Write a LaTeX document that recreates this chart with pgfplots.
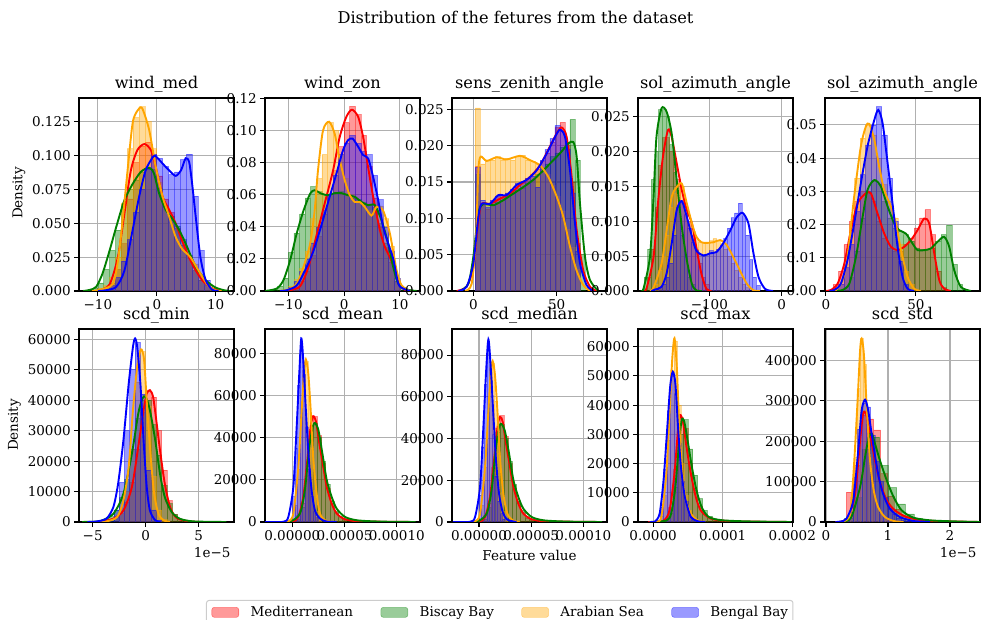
\documentclass[border=0pt]{standalone}
\usepackage{fontspec}
\setmainfont{DejaVu Serif}
\usepackage{pgfplots}
\pgfplotsset{compat=1.18}

\definecolor{cMed}{RGB}{255,0,0}
\definecolor{cBis}{RGB}{0,128,0}
\definecolor{cAra}{RGB}{255,165,0}
\definecolor{cBen}{RGB}{0,0,255}
\definecolor{gridc}{RGB}{176,176,176}
\definecolor{legc}{RGB}{204,204,204}

\newcommand\tickfont{\fontsize{13.5}{16}\selectfont}
\newcommand\titlefont{\fontsize{16.2}{19}\selectfont}

\pgfplotsset{
  every axis title/.style={at={(0.5,1)}, anchor=base, yshift=9.7pt},
  panel/.style={scale only axis, width=155pt, height=193pt, anchor=south west,
    ymin=0, scaled ticks=false,
    grid=major, grid style={gridc, line width=1.05pt},
    axis line style={line width=1.05pt},
    tick align=outside, xtick pos=left, ytick pos=left,
    major tick length=4.7pt, tick style={black, line width=1.05pt},
    tick label style={font=\tickfont},
    title style={font=\titlefont},
    label style={font=\tickfont},
  },
  hist/.style={ybar interval, fill=#1, fill opacity=0.4, draw=#1, draw opacity=0.4,
    line width=0.6pt,
    legend image code/.code={\fill[fill=#1, fill opacity=0.4] (0pt,-5pt) rectangle (27pt,5pt);}},
  kde/.style={draw=#1, line width=1.9pt, smooth, tension=0.45, mark=none, forget plot},
}

\begin{document}
\begin{tikzpicture}
\useasboundingbox (0pt,0pt) rectangle (983pt,620pt);

\node[anchor=base, font=\titlefont] at (515.5pt,596.5pt) {Distribution of the fetures from the dataset};
\node[rotate=90, font=\tickfont] at (19pt,427pt) {Density};
\node[rotate=90, font=\tickfont] at (14.5pt,195pt) {Density};
\node[anchor=base east, font=\tickfont] at (234pt,62pt) {1e−5};
\node[anchor=base east, font=\tickfont] at (980pt,62pt) {1e−5};

% ---------------- wind_med ----------------
\begin{axis}[panel, at={(79pt,329pt)}, xmin=-13.2, xmax=13.1, ymax=0.1425,
  xtick={-10,0,10}, xticklabels={−10,0,10},
  ytick={0,0.025,0.05,0.075,0.1,0.125}, yticklabels={0.000,0.025,0.050,0.075,0.100,0.125},
  title={wind\_med}]
\addplot[hist=cMed] coordinates {(-9,0.002)(-8,0.006)(-7,0.016)(-6,0.035)(-5,0.068)(-4,0.095)(-3,0.107)(-2,0.110)(-1,0.100)(0,0.085)(1,0.068)(2,0.058)(3,0.046)(4,0.034)(5,0.024)(6,0.015)(7,0.008)(8,0.004)(9,0)};
\addplot[hist=cBis] coordinates {(-11,0.002)(-10,0.006)(-9,0.016)(-8,0.030)(-7,0.045)(-6,0.064)(-5,0.075)(-4,0.082)(-3,0.088)(-2,0.091)(-1,0.090)(0,0.076)(1,0.062)(2,0.055)(3,0.048)(4,0.038)(5,0.026)(6,0.015)(7,0.008)(8,0.004)(9,0.002)(10,0)};
\addplot[hist=cAra] coordinates {(-10,0.002)(-9,0.004)(-8,0.010)(-7,0.025)(-6,0.065)(-5,0.105)(-4,0.128)(-3,0.136)(-2,0.125)(-1,0.105)(0,0.080)(1,0.063)(2,0.050)(3,0.038)(4,0.032)(5,0.026)(6,0.020)(7,0.012)(8,0.006)(9,0.002)(10,0)};
\addplot[hist=cBen] coordinates {(-8,0.004)(-7,0.010)(-6,0.022)(-5,0.038)(-4,0.058)(-3,0.075)(-2,0.090)(-1,0.101)(0,0.098)(1,0.092)(2,0.086)(3,0.088)(4,0.097)(5,0.101)(6,0.070)(7,0.030)(8,0.008)(9,0)};
\addplot[kde=cMed] coordinates {(-11,0)(-9.7,0.0005)(-8,0.005)(-6.6,0.025)(-5.5,0.057)(-4.4,0.089)(-3.3,0.104)(-2.1,0.1085)(-1,0.104)(-0.2,0.092)(1,0.0695)(2.1,0.060)(3.2,0.050)(4.3,0.037)(6,0.020)(7.7,0.008)(9.4,0.002)(11,0)};
\addplot[kde=cBis] coordinates {(-12.5,0)(-11.4,0.0008)(-10.3,0.003)(-9.2,0.013)(-8,0.030)(-6.9,0.047)(-5.5,0.067)(-4.1,0.079)(-2.7,0.088)(-1.3,0.091)(-0.5,0.087)(0.4,0.072)(1.5,0.060)(2.6,0.0535)(3.8,0.045)(4.9,0.035)(6.6,0.018)(8.3,0.008)(10,0.0025)(11.7,0.0003)(12.5,0)};
\addplot[kde=cAra] coordinates {(-11,0)(-9.7,0.0008)(-7.5,0.005)(-6.6,0.022)(-5.8,0.052)(-4.96,0.089)(-4.1,0.124)(-3.3,0.133)(-2.5,0.135)(-1.3,0.119)(-0.2,0.092)(1,0.0695)(2.1,0.055)(3.2,0.040)(4.3,0.031)(5.7,0.025)(7.1,0.015)(8.7,0.004)(10,0.0005)(11,0)};
\addplot[kde=cBen] coordinates {(-10,0)(-8.7,0.0005)(-6.9,0.003)(-5.5,0.015)(-4.1,0.045)(-3,0.0695)(-1.9,0.089)(-0.7,0.0986)(-0.2,0.0996)(1,0.094)(2.1,0.089)(3.2,0.085)(4.1,0.089)(4.9,0.098)(5.5,0.095)(6,0.079)(6.6,0.055)(7.4,0.025)(8.3,0.008)(9.4,0.001)(10.5,0)};
\end{axis}

% ---------------- wind_zon ----------------
\begin{axis}[panel, at={(265pt,329pt)}, xmin=-14.2, xmax=13.6, ymax=0.1203,
  xtick={-10,0,10}, xticklabels={−10,0,10},
  ytick={0,0.02,0.04,0.06,0.08,0.1,0.12}, yticklabels={0.00,0.02,0.04,0.06,0.08,0.10,0.12},
  title={wind\_zon}]
\addplot[hist=cMed] coordinates {(-9,0.002)(-8,0.006)(-7,0.012)(-6,0.022)(-5,0.034)(-4,0.048)(-3,0.060)(-2,0.075)(-1,0.090)(0,0.105)(1,0.115)(2,0.110)(3,0.097)(4,0.078)(5,0.058)(6,0.040)(7,0.027)(8,0.018)(9,0.006)(10,0)};
\addplot[hist=cBis] coordinates {(-13,0.001)(-12,0.003)(-11,0.008)(-10,0.024)(-9,0.036)(-8,0.048)(-7,0.058)(-6,0.065)(-5,0.062)(-4,0.060)(-3,0.060)(-2,0.061)(-1,0.062)(0,0.060)(1,0.058)(2,0.057)(3,0.055)(4,0.054)(5,0.052)(6,0.042)(7,0.030)(8,0.022)(9,0.006)(10,0.002)(11,0)};
\addplot[hist=cAra] coordinates {(-10,0.003)(-9,0.007)(-8,0.014)(-7,0.025)(-6,0.045)(-5,0.070)(-4,0.085)(-3,0.105)(-2,0.100)(-1,0.085)(0,0.070)(1,0.060)(2,0.056)(3,0.055)(4,0.050)(5,0.050)(6,0.053)(7,0.045)(8,0.028)(9,0.008)(10,0)};
\addplot[hist=cBen] coordinates {(-10,0.002)(-9,0.006)(-8,0.012)(-7,0.020)(-6,0.030)(-5,0.040)(-4,0.050)(-3,0.060)(-2,0.072)(-1,0.085)(0,0.092)(1,0.097)(2,0.092)(3,0.087)(4,0.085)(5,0.072)(6,0.057)(7,0.040)(8,0.025)(9,0.008)(10,0)};
\addplot[kde=cMed] coordinates {(-11,0)(-9.7,0.0005)(-7.9,0.003)(-6.4,0.015)(-5,0.034)(-3.5,0.0545)(-2,0.075)(-0.8,0.096)(0.4,0.1086)(1.4,0.113)(2.5,0.1086)(3.4,0.096)(4.3,0.077)(5.2,0.0587)(6.4,0.038)(7.3,0.0275)(8.2,0.021)(9.1,0.013)(10,0.0035)(11.2,0)};
\addplot[kde=cBis] coordinates {(-14.2,0)(-12.1,0.0015)(-10.9,0.0067)(-9.7,0.019)(-8.5,0.036)(-7.3,0.050)(-6.1,0.0607)(-5.3,0.0628)(-4.1,0.0607)(-2.9,0.0597)(-1.7,0.061)(-0.5,0.061)(0.7,0.0597)(1.9,0.0587)(3.1,0.0555)(4.3,0.0535)(5.5,0.0535)(6.7,0.044)(7.9,0.0295)(8.8,0.015)(9.7,0.0046)(11.2,0.001)(13,0)};
\addplot[kde=cAra] coordinates {(-11.5,0)(-10,0.001)(-8.5,0.0046)(-7.3,0.015)(-6.1,0.0295)(-5.3,0.050)(-4.7,0.075)(-3.8,0.100)(-2.7,0.1055)(-1.7,0.098)(-0.9,0.0836)(0.1,0.069)(1,0.0597)(1.9,0.0555)(2.8,0.0555)(3.7,0.0524)(4.9,0.047)(5.8,0.0524)(7,0.050)(8.2,0.0358)(9.4,0.013)(10.3,0.0035)(11.8,0)};
\addplot[kde=cBen] coordinates {(-11.5,0)(-10.3,0.0005)(-8.5,0.0035)(-7,0.013)(-5.5,0.025)(-4,0.042)(-2.6,0.0587)(-1.4,0.073)(-0.2,0.0878)(0.7,0.094)(1.5,0.095)(2.5,0.090)(3.4,0.0847)(4.3,0.0826)(5.2,0.071)(6.1,0.0566)(7,0.040)(7.9,0.0295)(8.8,0.020)(9.7,0.0046)(10.6,0.0015)(11.8,0)};
\end{axis}

% ---------------- sens_zenith_angle ----------------
\begin{axis}[panel, at={(452pt,329pt)}, xmin=-12.8, xmax=80.2, ymax=0.02656,
  xtick={0,50}, xticklabels={0,50},
  ytick={0,0.005,0.01,0.015,0.02,0.025}, yticklabels={0.000,0.005,0.010,0.015,0.020,0.025},
  title={sens\_zenith\_angle}]
\addplot[hist=cMed] coordinates {(1,0.0172)(4,0.0118)(7,0.0113)(10,0.0122)(13,0.013)(16,0.0128)(19,0.0135)(22,0.0138)(25,0.0142)(28,0.0148)(31,0.0155)(34,0.016)(37,0.0168)(40,0.0178)(43,0.019)(46,0.0205)(49,0.0225)(52,0.0232)(55,0.020)(58,0.015)(61,0.0065)(64,0)};
\addplot[hist=cBis] coordinates {(1,0.016)(4,0.012)(7,0.0118)(10,0.0118)(13,0.0122)(16,0.0125)(19,0.013)(22,0.0133)(25,0.0138)(28,0.0142)(31,0.0148)(34,0.0152)(37,0.016)(40,0.0168)(43,0.0175)(46,0.0185)(49,0.019)(52,0.0198)(55,0.0205)(58,0.0236)(61,0.018)(64,0.005)(67,0)};
\addplot[hist=cAra] coordinates {(1,0.0252)(4,0.0175)(7,0.018)(10,0.018)(13,0.0185)(16,0.018)(19,0.0182)(22,0.018)(25,0.0185)(28,0.0187)(31,0.018)(34,0.0178)(37,0.0175)(40,0.017)(43,0.016)(46,0.0145)(49,0.013)(52,0.011)(55,0.0085)(58,0.006)(61,0.003)(64,0)};
\addplot[hist=cBen] coordinates {(1,0.017)(4,0.0125)(7,0.0115)(10,0.0125)(13,0.013)(16,0.013)(19,0.0135)(22,0.014)(25,0.0148)(28,0.015)(31,0.0155)(34,0.0158)(37,0.0143)(40,0.018)(43,0.0195)(46,0.021)(49,0.0228)(52,0.022)(55,0.0195)(58,0.0135)(61,0.0055)(64,0)};
\addplot[kde=cMed] coordinates {(-10,0)(-4,0.0006)(0,0.0033)(3,0.0097)(5,0.012)(10,0.012)(16,0.0127)(22,0.0134)(28,0.0146)(34,0.0157)(40,0.0173)(46,0.0199)(50,0.0217)(53,0.0225)(56,0.0212)(59,0.0157)(62,0.0084)(66,0.0028)(70,0.0006)(74,0)};
\addplot[kde=cBis] coordinates {(-8,0)(-3,0.001)(0,0.0047)(3,0.0107)(6,0.012)(12,0.0118)(18,0.0125)(24,0.0134)(30,0.0143)(36,0.0153)(42,0.0166)(48,0.018)(53,0.0192)(57,0.0203)(60,0.0205)(62,0.0185)(64,0.012)(67,0.0047)(70,0.0015)(75,0)};
\addplot[kde=cAra] coordinates {(-5,0)(-1,0.001)(1.6,0.0074)(3,0.0166)(4.4,0.0185)(8,0.0179)(14,0.0184)(20,0.0181)(28,0.0186)(34,0.018)(40,0.0173)(45,0.0157)(50,0.013)(54,0.0102)(58,0.0061)(62,0.0028)(66,0.0008)(70,0)};
\addplot[kde=cBen] coordinates {(-9,0)(-4,0.0006)(0,0.0038)(3,0.0102)(5,0.012)(10,0.012)(15,0.0132)(20,0.0132)(26,0.0146)(32,0.0153)(38,0.0166)(44,0.0189)(49,0.0212)(52,0.0222)(55,0.0212)(58,0.0166)(61,0.0093)(64,0.0038)(68,0.0008)(72,0)};
\end{axis}

% ---------------- sol_azimuth_angle (1) ----------------
\begin{axis}[panel, at={(638pt,329pt)}, xmin=-198.5, xmax=15.6, ymax=0.02768,
  xtick={-100,0}, xticklabels={−100,0},
  ytick={0,0.005,0.01,0.015,0.02,0.025}, yticklabels={0.000,0.005,0.010,0.015,0.020,0.025},
  title={sol\_azimuth\_angle}]
\addplot[hist=cMed] coordinates {(-185,0.002)(-180,0.006)(-175,0.012)(-170,0.018)(-165,0.022)(-160,0.022)(-155,0.020)(-150,0.019)(-145,0.016)(-140,0.013)(-135,0.011)(-130,0.010)(-125,0.008)(-120,0.006)(-115,0.004)(-110,0.002)(-105,0.001)(-100,0)};
\addplot[hist=cBis] coordinates {(-190,0.002)(-185,0.006)(-180,0.016)(-175,0.020)(-170,0.026)(-165,0.026)(-160,0.025)(-155,0.021)(-150,0.017)(-145,0.012)(-140,0.008)(-135,0.005)(-130,0.002)(-125,0.001)(-120,0)};
\addplot[hist=cAra] coordinates {(-175,0.001)(-170,0.003)(-165,0.005)(-160,0.008)(-155,0.012)(-150,0.014)(-145,0.0155)(-140,0.015)(-135,0.012)(-130,0.010)(-125,0.0085)(-120,0.0075)(-115,0.007)(-110,0.007)(-105,0.007)(-100,0.0072)(-95,0.0075)(-90,0.0072)(-85,0.0068)(-80,0.006)(-75,0.005)(-70,0.004)(-65,0.003)(-60,0.002)(-55,0.001)(-50,0.0005)(-45,0)};
\addplot[hist=cBen] coordinates {(-170,0.0005)(-165,0.001)(-160,0.002)(-155,0.004)(-150,0.008)(-145,0.012)(-140,0.0128)(-135,0.011)(-130,0.009)(-125,0.007)(-120,0.0058)(-115,0.0052)(-110,0.005)(-105,0.0052)(-100,0.0058)(-95,0.0055)(-90,0.006)(-85,0.0065)(-80,0.0075)(-75,0.009)(-70,0.0105)(-65,0.0112)(-60,0.0126)(-55,0.0108)(-50,0.008)(-45,0.0045)(-40,0.002)(-35,0.0008)(-30,0)};
\addplot[kde=cMed] coordinates {(-192,0)(-187,0.0003)(-177,0.0049)(-171,0.0125)(-164,0.0193)(-157,0.0231)(-152,0.0221)(-145,0.0183)(-138,0.0145)(-131,0.0116)(-124,0.0097)(-118,0.0063)(-111,0.0025)(-104,0.0003)(-97,0)};
\addplot[kde=cBis] coordinates {(-195,0)(-191,0.0003)(-182,0.0049)(-177,0.0135)(-173,0.0221)(-166,0.0262)(-159,0.0257)(-152,0.0226)(-145,0.0159)(-138,0.0092)(-131,0.0044)(-124,0.001)(-118,0.0001)(-110,0)};
\addplot[kde=cAra] coordinates {(-182,0)(-177,0.0005)(-166,0.0039)(-159,0.0087)(-152,0.0135)(-145,0.0149)(-138,0.0154)(-131,0.0125)(-124,0.0097)(-118,0.0078)(-111,0.007)(-104,0.0069)(-94,0.007)(-85,0.0073)(-76,0.0066)(-67,0.0049)(-58,0.003)(-48,0.001)(-39,0.0001)(-30,0)};
\addplot[kde=cBen] coordinates {(-180,0)(-175,0.0002)(-166,0.0006)(-159,0.0025)(-152,0.0068)(-145,0.0116)(-138,0.0129)(-131,0.0106)(-124,0.0078)(-118,0.0058)(-108,0.0051)(-99,0.0054)(-90,0.0056)(-81,0.0068)(-71,0.0087)(-62,0.0106)(-54,0.0112)(-46,0.0097)(-39,0.0054)(-32,0.002)(-23,0.0003)(-12,0)};
\end{axis}

% ---------------- sol_azimuth_angle (2) ----------------
\begin{axis}[panel, at={(825pt,329pt)}, xmin=-0.5, xmax=85.6, ymax=0.0581,
  xtick={0,50}, xticklabels={0,50},
  ytick={0,0.01,0.02,0.03,0.04,0.05}, yticklabels={0.00,0.01,0.02,0.03,0.04,0.05},
  title={sol\_azimuth\_angle}]
\addplot[hist=cMed] coordinates {(4,0.002)(7,0.006)(10,0.014)(13,0.021)(16,0.027)(19,0.030)(22,0.030)(25,0.027)(28,0.021)(31,0.016)(34,0.013)(37,0.012)(40,0.012)(43,0.014)(46,0.016)(49,0.019)(52,0.022)(55,0.0245)(58,0.017)(61,0.006)(64,0.001)(67,0)};
\addplot[hist=cBis] coordinates {(10,0.001)(13,0.004)(16,0.012)(19,0.022)(22,0.030)(25,0.033)(28,0.032)(31,0.027)(34,0.022)(37,0.019)(40,0.018)(43,0.017)(46,0.015)(49,0.013)(52,0.0125)(55,0.0125)(58,0.013)(61,0.015)(64,0.017)(67,0.0198)(70,0.008)(73,0.002)(76,0)};
\addplot[hist=cAra] coordinates {(7,0.002)(10,0.008)(13,0.020)(16,0.034)(19,0.046)(22,0.050)(25,0.047)(28,0.040)(31,0.032)(34,0.027)(37,0.022)(40,0.014)(43,0.006)(46,0.002)(49,0)};
\addplot[hist=cBen] coordinates {(7,0.002)(10,0.007)(13,0.014)(16,0.024)(19,0.035)(22,0.044)(25,0.050)(28,0.0555)(31,0.047)(34,0.034)(37,0.021)(40,0.009)(43,0.002)(46,0)};
\addplot[kde=cMed] coordinates {(0,0)(2.8,0.0003)(6.5,0.0022)(10.2,0.0082)(13.9,0.0183)(17.6,0.0264)(22.2,0.0294)(25,0.0294)(28.7,0.0233)(32.4,0.0173)(36.1,0.0133)(39.8,0.0123)(43.5,0.0133)(47.2,0.0153)(50.9,0.0183)(54.6,0.0218)(57.4,0.0203)(60.2,0.0113)(63,0.0032)(65.7,0.0007)(69.4,0)};
\addplot[kde=cBis] coordinates {(6,0)(9.3,0.0003)(13,0.0022)(16.7,0.0103)(20.4,0.0223)(23.1,0.0304)(26.9,0.0334)(30.6,0.0314)(34.3,0.0254)(38,0.0203)(40.7,0.0183)(44.4,0.0173)(48.1,0.0143)(50.9,0.0123)(54.6,0.0123)(58.3,0.0128)(62,0.0148)(65.7,0.0163)(68.5,0.0133)(71.3,0.0062)(75,0.0012)(80.6,0)};
\addplot[kde=cAra] coordinates {(3,0)(5.6,0.0003)(9.3,0.0032)(12,0.0103)(15.7,0.0284)(19.4,0.0435)(22.2,0.0495)(24.1,0.0503)(26.9,0.0455)(29.6,0.0374)(32.4,0.0304)(36.1,0.0254)(38.9,0.0203)(41.7,0.0123)(45.4,0.0042)(49,0.0007)(52.8,0)};
\addplot[kde=cBen] coordinates {(2,0)(4.6,0.0003)(8.3,0.0022)(12,0.0093)(15.7,0.0203)(19.4,0.0324)(23.1,0.0435)(26.9,0.0515)(29.1,0.0545)(31.5,0.0505)(34.3,0.0384)(37,0.0264)(39.8,0.0133)(42.6,0.0042)(45.4,0.0007)(49,0)};
\end{axis}

% ---------------- scd_min (x in units of 1e-5) ----------------
\begin{axis}[panel, at={(79pt,98pt)}, xmin=-6.29, xmax=8.33, ymax=63400,
  xtick={-5,0,5}, xticklabels={−5,0,5},
  ytick={0,10000,20000,30000,40000,50000,60000}, yticklabels={0,10000,20000,30000,40000,50000,60000},
  title={scd\_min}]
\addplot[hist=cMed] coordinates {(-3,1500)(-2.5,3000)(-2,6500)(-1.5,13000)(-1,24000)(-0.5,36000)(0,43000)(0.5,41000)(1,30000)(1.5,17000)(2,7000)(2.5,2500)(3,800)(3.5,0)};
\addplot[hist=cBis] coordinates {(-4,800)(-3.5,1800)(-3,4000)(-2.5,8000)(-2,14000)(-1.5,24000)(-1,34000)(-0.5,40000)(0,40000)(0.5,32000)(1,22000)(1.5,12000)(2,6000)(2.5,2500)(3,1000)(3.5,400)(4,0)};
\addplot[hist=cAra] coordinates {(-2.5,3000)(-2,10000)(-1.5,24000)(-1,46000)(-0.5,56000)(0,38000)(0.5,15000)(1,4000)(1.5,800)(2,0)};
\addplot[hist=cBen] coordinates {(-3.5,1000)(-3,4000)(-2.5,13000)(-2,30000)(-1.5,50000)(-1,59000)(-0.5,42000)(0,17000)(0.5,4000)(1,600)(1.5,0)};
\addplot[kde=cMed] coordinates {(-5,0)(-4.3,100)(-3.05,1100)(-2.1,3800)(-1.3,11500)(-0.7,24700)(-0.2,36700)(0.1,42200)(0.4,43300)(0.7,41100)(1,33400)(1.35,23600)(1.8,12600)(2.3,4900)(2.9,1400)(3.9,300)(5.1,0)};
\addplot[kde=cBis] coordinates {(-6,0)(-5.6,50)(-4.3,300)(-3.05,2700)(-2.1,9300)(-1.3,22500)(-0.7,35600)(-0.3,40600)(0,41100)(0.4,36700)(0.9,26900)(1.35,15900)(1.8,8200)(2.45,3300)(3.2,1100)(4.5,200)(7.6,0)};
\addplot[kde=cAra] coordinates {(-4.5,0)(-3.7,200)(-2.7,1600)(-2.1,7100)(-1.6,18100)(-1.2,36700)(-0.8,51000)(-0.45,56700)(-0.15,53200)(0.15,36700)(0.5,20300)(0.8,9300)(1.2,2700)(1.7,550)(2.3,0)};
\addplot[kde=cBen] coordinates {(-5.5,0)(-4.6,200)(-3.7,1100)(-3.05,4900)(-2.6,12600)(-2.1,26900)(-1.6,45500)(-1.2,57500)(-1,60300)(-0.8,57500)(-0.5,45500)(-0.2,26900)(0.1,11500)(0.4,3800)(0.9,550)(1.4,0)};
\end{axis}

% ---------------- scd_mean ----------------
\begin{axis}[panel, at={(265pt,98pt)}, xmin=-2.61, xmax=12.22, ymax=91550,
  xtick={0,5,10}, xticklabels={0.00000,0.00005,0.00010},
  ytick={0,20000,40000,60000,80000}, yticklabels={0,20000,40000,60000,80000},
  title={scd\_mean}]
\addplot[hist=cMed] coordinates {(0.4,3000)(0.8,9000)(1.2,25000)(1.6,44000)(2.0,50000)(2.4,41000)(2.8,28000)(3.2,16000)(3.6,9000)(4.0,4500)(4.4,2000)(4.8,1000)(5.2,0)};
\addplot[hist=cBis] coordinates {(0.4,1500)(0.8,7000)(1.2,22000)(1.6,42000)(2.0,47000)(2.4,40000)(2.8,29000)(3.2,18000)(3.6,10000)(4.0,5000)(4.4,2500)(4.8,1500)(5.2,800)(5.6,0)};
\addplot[hist=cAra] coordinates {(0.25,8000)(0.5,25000)(0.75,50000)(1.0,72000)(1.25,76000)(1.5,60000)(1.75,35000)(2.0,15000)(2.25,5000)(2.5,1500)(2.75,0)};
\addplot[hist=cBen] coordinates {(0,12000)(0.25,35000)(0.5,65000)(0.75,84000)(1.0,70000)(1.25,45000)(1.5,25000)(1.75,12000)(2.0,5000)(2.25,2000)(2.5,0)};
\addplot[kde=cMed] coordinates {(-0.5,0)(0.1,200)(0.58,2400)(1.05,11900)(1.44,29300)(1.76,45100)(2.0,50200)(2.27,47500)(2.59,37200)(2.97,26100)(3.3,16600)(3.77,8700)(4.25,4000)(4.9,1600)(5.85,500)(7.4,200)(11.6,0)};
\addplot[kde=cBis] coordinates {(-2.1,0)(-0.2,300)(0.73,4000)(1.2,15000)(1.63,35600)(1.95,45100)(2.17,47000)(2.5,43600)(2.88,32500)(3.3,19800)(3.77,11900)(4.25,6300)(5.05,2400)(6.2,800)(8.4,200)(11.8,0)};
\addplot[kde=cAra] coordinates {(-1,0)(-0.38,300)(0.1,4000)(0.58,26100)(0.9,53100)(1.12,70500)(1.3,77100)(1.53,70500)(1.76,53100)(2.0,30900)(2.33,13500)(2.65,4000)(3.13,800)(3.9,0)};
\addplot[kde=cBen] coordinates {(-2.6,0)(-0.86,100)(-0.38,2400)(0.1,16600)(0.42,45100)(0.67,70500)(0.86,87100)(1.05,76800)(1.3,53100)(1.57,30900)(1.85,15000)(2.17,5500)(2.65,1600)(3.3,200)(4.25,0)};
\end{axis}

% ---------------- scd_median (carries the legend) ----------------
\begin{axis}[panel, at={(452pt,98pt)}, xmin=-2.59, xmax=12.27, ymax=92480,
  xtick={0,5,10}, xticklabels={0.00000,0.00005,0.00010},
  ytick={0,20000,40000,60000,80000}, yticklabels={0,20000,40000,60000,80000},
  title={scd\_median},
  xlabel={Feature value},
  xlabel style={at={(axis description cs:0.5,-0.202)}, anchor=base},
  legend columns=4,
  legend style={at={(0.308,-0.404)}, anchor=north, draw=legc, line width=1pt,
    rounded corners=2.5pt, fill=white, font=\tickfont,
    inner xsep=5pt, inner ysep=6pt, nodes={inner sep=0pt},
    /tikz/every odd column/.append style={column sep=11.5pt},
    /tikz/every even column/.append style={column sep=27.4pt}}]
\addplot[hist=cMed] coordinates {(0.4,3000)(0.8,9000)(1.2,26000)(1.6,45000)(2.0,51000)(2.4,41000)(2.8,28000)(3.2,16000)(3.6,9000)(4.0,4500)(4.4,2000)(4.8,1000)(5.2,0)};
\addlegendentry{Mediterranean}
\addplot[hist=cBis] coordinates {(0.4,1500)(0.8,7000)(1.2,23000)(1.6,43000)(2.0,47000)(2.4,40000)(2.8,29000)(3.2,18000)(3.6,10000)(4.0,5500)(4.4,2500)(4.8,1500)(5.2,800)(5.6,0)};
\addlegendentry{Biscay Bay}
\addplot[hist=cAra] coordinates {(0.25,8000)(0.5,26000)(0.75,52000)(1.0,74000)(1.25,76000)(1.5,58000)(1.75,33000)(2.0,14000)(2.25,5000)(2.5,1500)(2.75,0)};
\addlegendentry{Arabian Sea}
\addplot[hist=cBen] coordinates {(0,13000)(0.25,36000)(0.5,66000)(0.75,86000)(1.0,68000)(1.25,42000)(1.5,22000)(1.75,10000)(2.0,4000)(2.25,1500)(2.5,0)};
\addlegendentry{Bengal Bay}
\addplot[kde=cMed] coordinates {(-0.5,0)(0.1,200)(0.58,2400)(1.05,12000)(1.44,29600)(1.76,44800)(2.0,50400)(2.27,48000)(2.59,37600)(2.97,26400)(3.3,16800)(3.77,8800)(4.25,4000)(4.9,1600)(5.85,500)(7.8,200)(11.6,0)};
\addplot[kde=cBis] coordinates {(-2.1,0)(-0.2,300)(0.73,4000)(1.2,15200)(1.63,36000)(1.95,45900)(2.17,46900)(2.5,43200)(2.88,32800)(3.3,20000)(3.77,12000)(4.25,6400)(5.05,2400)(6.2,800)(8.4,200)(11.8,0)};
\addplot[kde=cAra] coordinates {(-1,0)(-0.38,300)(0.1,4000)(0.58,26400)(0.9,53600)(1.12,71200)(1.31,77100)(1.53,70400)(1.76,53600)(2.0,31200)(2.33,13600)(2.72,4000)(3.23,800)(3.9,0)};
\addplot[kde=cBen] coordinates {(-2.5,0)(-0.86,100)(-0.38,2400)(0.1,16800)(0.42,45600)(0.67,71200)(0.9,87500)(1.12,74400)(1.37,52000)(1.63,29600)(1.92,13600)(2.27,4800)(2.72,1100)(3.6,0)};
\end{axis}

% ---------------- scd_max ----------------
\begin{axis}[panel, at={(638pt,98pt)}, xmin=-2.17, xmax=20.1, ymax=66060,
  xtick={0,10,20}, xticklabels={0.0000,0.0001,0.0002},
  ytick={0,10000,20000,30000,40000,50000,60000}, yticklabels={0,10000,20000,30000,40000,50000,60000},
  title={scd\_max}]
\addplot[hist=cMed] coordinates {(1.5,1000)(2.2,5000)(2.9,18000)(3.6,36000)(4.3,32000)(5.0,20000)(5.7,11000)(6.4,5500)(7.1,2500)(7.8,1500)(8.5,800)(9.2,500)(9.9,0)};
\addplot[hist=cBis] coordinates {(1.5,500)(2.2,3000)(2.9,12000)(3.6,30000)(4.3,35000)(5.0,25000)(5.7,16000)(6.4,8000)(7.1,4000)(7.8,2000)(8.5,1000)(9.2,500)(9.9,0)};
\addplot[hist=cAra] coordinates {(1.0,2000)(1.5,9000)(2.0,28000)(2.5,52000)(3.0,62000)(3.5,40000)(4.0,20000)(4.5,9000)(5.0,4000)(5.5,1500)(6.0,0)};
\addplot[hist=cBen] coordinates {(0.5,500)(1.0,5000)(1.5,18000)(2.0,38000)(2.5,50000)(3.0,44000)(3.5,27000)(4.0,14000)(4.5,7000)(5.0,2500)(5.5,800)(6.0,0)};
\addplot[kde=cMed] coordinates {(-0.7,0)(1.4,300)(2.36,4000)(3.07,16600)(3.54,30300)(3.9,36600)(4.33,33700)(4.8,25700)(5.42,16600)(6.13,8600)(6.84,4000)(8.0,1500)(9.4,600)(12.3,200)(19.8,0)};
\addplot[kde=cBis] coordinates {(-0.47,0)(1.9,500)(2.6,2900)(3.2,12000)(3.68,25700)(4.1,34900)(4.48,34300)(4.95,28000)(5.57,18900)(6.23,10900)(6.98,5100)(8.0,1700)(9.9,600)(13.7,200)(19.8,0)};
\addplot[kde=cAra] coordinates {(0,0)(0.47,100)(1.18,1700)(1.9,16600)(2.36,37100)(2.74,55400)(3.07,62900)(3.4,53200)(3.77,32600)(4.25,15400)(4.72,7400)(5.42,2900)(6.37,600)(7.5,0)};
\addplot[kde=cBen] coordinates {(-0.5,0)(0.24,100)(0.94,2900)(1.5,14300)(1.98,30300)(2.45,46300)(2.83,51400)(3.2,47400)(3.58,32600)(4.0,18900)(4.48,9700)(4.8,6300)(5.42,1700)(6.37,300)(7.5,0)};
\end{axis}

% ---------------- scd_std (x in units of 1e-5) ----------------
\begin{axis}[panel, at={(825pt,98pt)}, xmin=-0.016, xmax=2.484, ymax=477700,
  xtick={0,1,2}, xticklabels={0,1,2},
  ytick={0,100000,200000,300000,400000}, yticklabels={0,100000,200000,300000,400000},
  title={scd\_std}]
\addplot[hist=cMed] coordinates {(0.33,74000)(0.44,140000)(0.55,265000)(0.66,255000)(0.77,228000)(0.88,120000)(0.99,64000)(1.10,32000)(1.21,15000)(1.32,8000)(1.43,4000)(1.54,2500)(1.65,1500)(1.76,1000)(1.87,800)(1.98,0)};
\addplot[hist=cBis] coordinates {(0.3,10000)(0.44,60000)(0.58,180000)(0.72,210000)(0.86,140000)(1.0,85000)(1.14,45000)(1.28,20000)(1.42,9000)(1.56,4000)(1.7,2000)(1.84,1000)(1.98,0)};
\addplot[hist=cAra] coordinates {(0.35,15000)(0.40,60000)(0.45,160000)(0.50,330000)(0.55,455000)(0.60,390000)(0.65,250000)(0.70,140000)(0.75,75000)(0.80,42000)(0.85,22000)(0.90,11000)(0.95,5000)(1.00,2000)(1.05,0)};
\addplot[hist=cBen] coordinates {(0.3,5000)(0.37,25000)(0.44,110000)(0.51,230000)(0.58,295000)(0.65,285000)(0.72,215000)(0.79,150000)(0.86,100000)(0.93,60000)(1.0,35000)(1.07,20000)(1.14,10000)(1.21,5000)(1.28,2000)(1.35,0)};
\addplot[kde=cMed] coordinates {(0.15,0)(0.25,1000)(0.36,12400)(0.47,70100)(0.55,202000)(0.6,268000)(0.645,268000)(0.7,226800)(0.79,152600)(0.87,99000)(0.98,53600)(1.11,28900)(1.3,12400)(1.57,4100)(1.95,1600)(2.48,0)};
\addplot[kde=cBis] coordinates {(0.2,0)(0.28,1000)(0.41,12400)(0.55,86600)(0.63,160800)(0.69,210300)(0.74,218500)(0.79,193800)(0.87,152600)(0.98,103100)(1.09,61900)(1.22,28900)(1.41,10700)(1.68,4100)(2.05,1600)(2.48,0)};
\addplot[kde=cAra] coordinates {(0.2,0)(0.28,1000)(0.39,20600)(0.45,136000)(0.51,301000)(0.55,424700)(0.575,453600)(0.61,416500)(0.66,276300)(0.71,152600)(0.77,78300)(0.84,37100)(0.95,12400)(1.09,2500)(1.25,0)};
\addplot[kde=cBen] coordinates {(0.15,0)(0.23,1000)(0.33,8200)(0.44,53600)(0.52,177300)(0.575,276300)(0.63,302700)(0.68,276300)(0.76,193800)(0.84,119600)(0.92,70100)(1.03,33000)(1.19,12400)(1.41,2500)(1.68,0)};
\end{axis}
\end{tikzpicture}
\end{document}
